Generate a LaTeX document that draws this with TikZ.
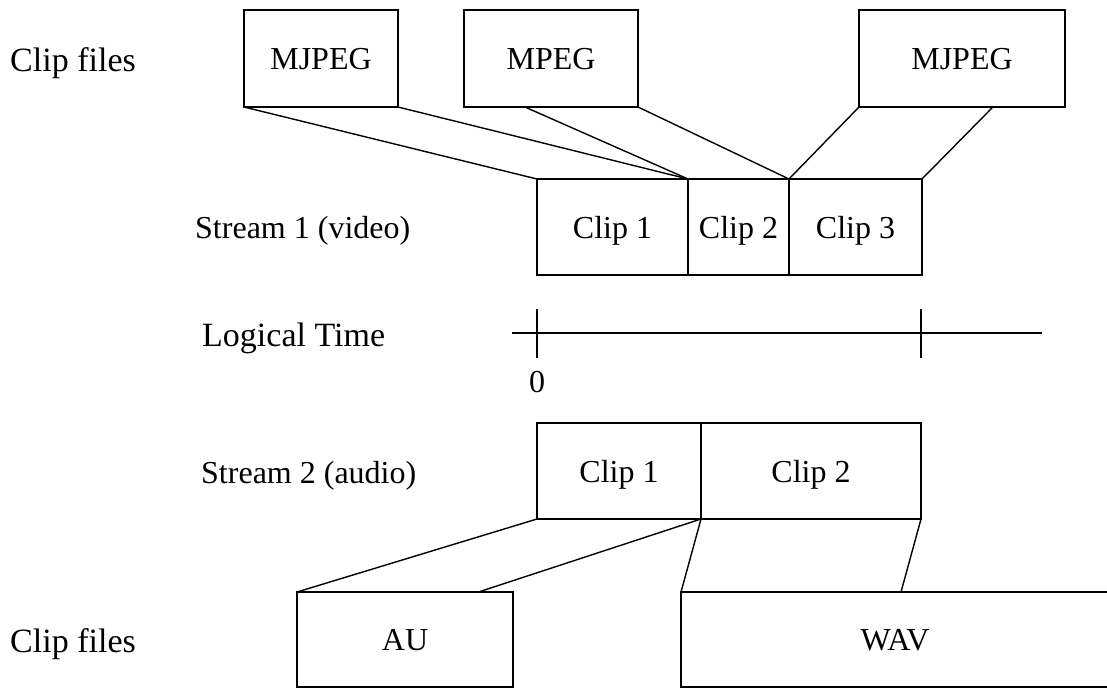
\documentclass[tikz,border=0pt]{standalone}
\usepackage{fontspec}
\setmainfont{Liberation Serif}
\usetikzlibrary{calc}

\begin{document}
\begin{tikzpicture}[x=1pt,y=-1pt,
    filebox/.style={draw,line width=2.8pt,inner sep=0pt,outer sep=0pt,anchor=north west,
      minimum height=97pt,text depth=0pt,font=\fontsize{32}{38}\selectfont},
    clipbox/.style={filebox,minimum height=96pt},
    link/.style={line width=1.4pt},
    rowlabel/.style={anchor=base west,inner sep=0pt,font=\fontsize{32}{38}\selectfont},
    biglabel/.style={anchor=base west,inner sep=0pt,font=\fontsize{34}{40}\selectfont}]
    \useasboundingbox (0,0) rectangle (1107,688);
    % clip files, video
    \node[biglabel] (filesv) at (10,71) {Clip files};
    \node[filebox,minimum width=154pt] (mjpegA) at (244,10) {MJPEG};
    \node[filebox,minimum width=174pt] (mpeg) at (464,10) {MPEG};
    \node[filebox,minimum width=206pt] (mjpegB) at (859,10) {MJPEG};
    % stream 1
    \node[rowlabel] (streamv) at (195,238) {Stream 1 (video)};
    \node[clipbox,minimum width=151pt] (vclip1) at (537,179) {Clip 1};
    \node[clipbox,minimum width=101pt] (vclip2) at (vclip1.north east) {Clip 2};
    \node[clipbox,minimum width=133pt] (vclip3) at (vclip2.north east) {Clip 3};
    \draw[link] (mjpegA.south west) -- (vclip1.north west);
    \draw[link] (mjpegA.south east) -- (vclip2.north west);
    \draw[link] ($(mpeg.south west)!0.35!(mpeg.south east)$) -- (vclip2.north west);
    \draw[link] (mpeg.south east) -- (vclip3.north west);
    \draw[link] (mjpegB.south west) -- (vclip3.north west);
    \draw[link] ($(mjpegB.south west)!0.65!(mjpegB.south east)$) -- (vclip3.north east);
    % logical time
    \node[biglabel] (timelabel) at (202,346) {Logical Time};
    \coordinate (tleft) at (512,333);
    \coordinate (tright) at (1042,333);
    \coordinate (tzero) at (537,333);
    \coordinate (tend) at (921,333);
    \draw[link] (tleft) -- (tright);
    \draw[link] (tzero) ++(0,-24) -- ++(0,49);
    \draw[link] (tend) ++(0,-24) -- ++(0,49);
    \node[anchor=base,inner sep=0pt,font=\fontsize{32}{38}\selectfont] (zero) at (537,392) {0};
    % stream 2
    \node[rowlabel] (streama) at (201,483) {Stream 2 (audio)};
    \node[clipbox,minimum width=164pt] (aclip1) at (537,423) {Clip 1};
    \node[clipbox,minimum width=220pt] (aclip2) at (aclip1.north east) {Clip 2};
    % clip files, audio
    \node[biglabel] (filesa) at (10,652) {Clip files};
    \node[filebox,minimum width=216pt,minimum height=95pt] (au) at (297,592) {AU};
    \node[filebox,minimum width=428pt,minimum height=95pt] (wav) at (681,592) {WAV};
    \draw[link] (aclip1.south west) -- (au.north west);
    \draw[link] (aclip1.south east) -- ($(au.north west)!0.84!(au.north east)$);
    \draw[link] (aclip2.south west) -- (wav.north west);
    \draw[link] (aclip2.south east) -- ($(wav.north west)!0.514!(wav.north east)$);
\end{tikzpicture}
\end{document}
